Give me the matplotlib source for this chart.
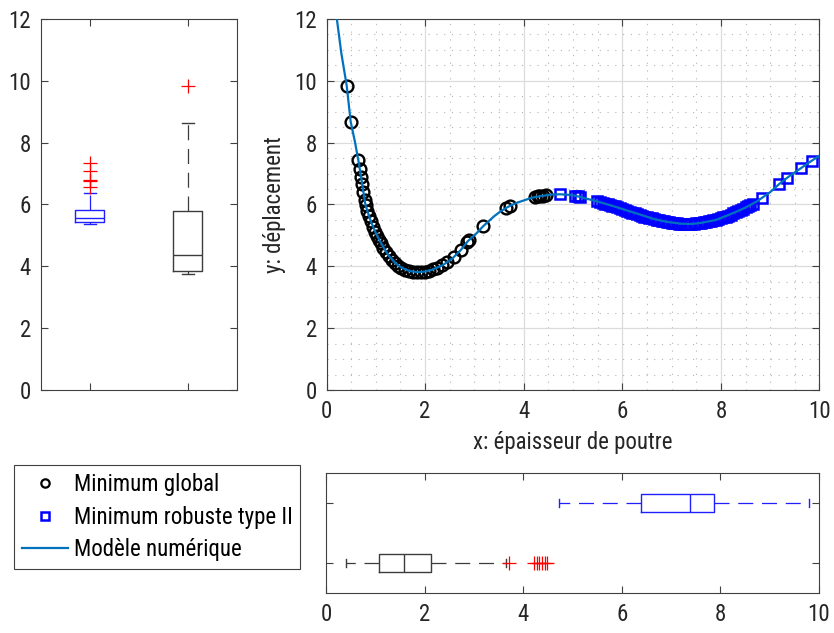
import numpy as np
import matplotlib
matplotlib.use("Agg")
from matplotlib import pyplot as plt
from matplotlib import font_manager
from matplotlib.lines import Line2D

# pick a narrow sans font if one is around
avail = {f.name for f in font_manager.fontManager.ttflist}
fam = next((n for n in ['Roboto Condensed', 'Liberation Sans Narrow', 'Open Sans Condensed',
                        'Noto Sans Condensed'] if n in avail), 'Liberation Sans')
plt.rcParams['font.family'] = [fam, 'DejaVu Sans']
plt.rcParams['font.size'] = 16.5

# ---- data ----
# numerical model curve
model_x = [0.21, 0.30, 0.41, 0.49, 0.58, 0.66, 0.79, 0.90, 1.00, 1.09, 1.18, 1.26, 1.40, 1.53, 1.68,
           1.84, 2.00, 2.14, 2.35, 2.55, 2.72, 2.87, 3.05, 3.18, 3.40, 3.55, 3.69, 3.85, 4.00, 4.17,
           4.34, 4.55, 4.74, 4.94, 5.08, 5.49, 5.75, 6.03, 6.37, 6.64, 6.90, 7.18, 7.40, 7.58, 7.90,
           8.26, 8.50, 8.74, 9.00, 9.21, 9.40, 9.61, 9.80, 10.0]
model_y = [12.0, 10.9, 9.84, 8.68, 8.00, 7.30, 5.98, 5.45, 5.08, 4.80, 4.55, 4.35, 4.10, 3.95, 3.85,
           3.81, 3.83, 3.89, 4.03, 4.25, 4.52, 4.82, 5.08, 5.30, 5.62, 5.80, 5.93, 6.05, 6.13, 6.22,
           6.27, 6.32, 6.33, 6.31, 6.27, 6.10, 5.98, 5.84, 5.67, 5.53, 5.44, 5.38, 5.37, 5.40, 5.50,
           5.73, 5.90, 6.11, 6.40, 6.70, 6.93, 7.16, 7.37, 7.58]

# Minimum global (circles)
glob_x = [0.41, 0.49, 0.64, 0.67, 0.70, 0.72, 0.75, 0.78, 0.80, 0.83, 0.86, 0.90, 0.94, 0.98, 1.02,
          1.06, 1.10, 1.15, 1.20, 1.26, 1.32, 1.38, 1.45, 1.52, 1.60, 1.68, 1.76, 1.84, 1.92, 2.00,
          2.08, 2.16, 2.25, 2.35, 2.45, 2.58, 2.72, 2.85, 2.90, 3.18, 3.65, 3.72, 4.22, 4.28, 4.34,
          4.40, 4.46]
glob_y = [9.84, 8.68, 7.45, 7.14, 6.88, 6.65, 6.40, 6.15, 5.98, 5.78, 5.62, 5.45, 5.28, 5.12, 4.98,
          4.85, 4.74, 4.60, 4.47, 4.35, 4.22, 4.12, 4.02, 3.94, 3.88, 3.84, 3.81, 3.81, 3.82, 3.83,
          3.86, 3.90, 3.96, 4.04, 4.14, 4.30, 4.52, 4.79, 4.86, 5.30, 5.88, 5.96, 6.24, 6.26, 6.27,
          6.29, 6.30]

# Minimum robuste type II (squares)
rob_x = [4.74, 5.05, 5.10, 5.15, 5.49, 5.55, 5.60, 5.65, 5.70, 5.75, 5.80, 5.85, 5.90, 5.95, 6.00,
         6.05, 6.10, 6.15, 6.20, 6.25, 6.30, 6.35, 6.40, 6.45, 6.50, 6.55, 6.60, 6.65, 6.70, 6.75,
         6.80, 6.85, 6.90, 6.95, 7.00, 7.05, 7.10, 7.15, 7.20, 7.25, 7.30, 7.35, 7.40, 7.45, 7.50,
         7.55, 7.60, 7.65, 7.70, 7.75, 7.80, 7.85, 7.90, 7.95, 8.00, 8.05, 8.10, 8.15, 8.20, 8.25,
         8.30, 8.35, 8.40, 8.45, 8.50, 8.55, 8.60, 8.65, 8.83, 9.17, 9.34, 9.62, 9.84]
rob_y = [6.33, 6.28, 6.27, 6.25, 6.10, 6.08, 6.06, 6.03, 6.01, 5.98, 5.96, 5.94, 5.91, 5.88, 5.85,
         5.82, 5.79, 5.77, 5.74, 5.71, 5.69, 5.66, 5.64, 5.61, 5.59, 5.57, 5.55, 5.53, 5.51, 5.49,
         5.47, 5.45, 5.44, 5.42, 5.41, 5.40, 5.39, 5.38, 5.38, 5.37, 5.37, 5.37, 5.37, 5.38, 5.39,
         5.40, 5.41, 5.42, 5.44, 5.45, 5.47, 5.49, 5.51, 5.53, 5.56, 5.58, 5.61, 5.64, 5.67, 5.71,
         5.75, 5.79, 5.83, 5.87, 5.91, 5.95, 5.99, 6.03, 6.22, 6.65, 6.86, 7.17, 7.40]

# boxplot stats: y (deplacement) and x (epaisseur)
rob_ybox = dict(whislo=5.37, q1=5.42, med=5.57, q3=5.81, whishi=6.37, fliers=[6.56, 6.76, 6.79, 7.07, 7.34])
glob_ybox = dict(whislo=3.75, q1=3.85, med=4.37, q3=5.79, whishi=8.65, fliers=[9.82])
glob_xbox = dict(whislo=0.41, q1=1.08, med=1.59, q3=2.12, whishi=3.66, fliers=[3.72, 4.22, 4.27, 4.33, 4.39, 4.44, 4.49])
rob_xbox = dict(whislo=4.73, q1=6.39, med=7.38, q3=7.88, whishi=9.80, fliers=[])

labels = ['Minimum global', 'Minimum robuste type II', 'Modèle numérique']

BLUE = '#1f1fff'
GREY = '#3c3c3c'
LINE = '#0072BD'
AXC = '#404040'


def style(ax):
    ax.tick_params(direction='in', top=True, right=True, length=5, width=0.8,
                   colors=AXC, labelcolor='#262626', pad=7)
    for s in ax.spines.values():
        s.set_color(AXC)
        s.set_linewidth(0.8)


def box(ax, st, pos, col, orient):
    ax.bxp([st], positions=[pos], widths=0.3, capwidths=0.12, orientation=orient,
           boxprops=dict(color=col, lw=1.0),
           medianprops=dict(color=col, lw=1.0),
           whiskerprops=dict(color=col, lw=0.9, ls=(0, (12, 7))),
           capprops=dict(color=col, lw=1.0),
           flierprops=dict(marker='+', markeredgecolor='red', markersize=10, mew=0.9, ls='none'))


fig = plt.figure(figsize=(8.34, 6.33), dpi=100)

# left: boxplots of y
ax1 = fig.add_axes([0.0488, 0.3839, 0.2350, 0.5861])
box(ax1, rob_ybox, 1, BLUE, 'vertical')
box(ax1, glob_ybox, 2, GREY, 'vertical')
ax1.set_xlim(0.5, 2.5)
ax1.set_ylim(0, 12)
ax1.set_xticks([1, 2])
ax1.set_xticklabels([])
ax1.set_yticks(range(0, 13, 2))
style(ax1)

# main plot
ax = fig.add_axes([0.3915, 0.3839, 0.5911, 0.5861])
ax.plot(glob_x, glob_y, 'o', mfc='none', mec='k', ms=8.5, mew=1.7, zorder=3)
ax.plot(rob_x, rob_y, 's', mfc='none', mec='#0000ff', ms=7.5, mew=1.8, zorder=3)
ax.plot(model_x, model_y, '-', color=LINE, lw=1.6, zorder=4)
ax.set_xlim(0, 10)
ax.set_ylim(0, 12)
ax.set_xticks(range(0, 11, 2))
ax.set_yticks(range(0, 13, 2))
ax.set_xticks(np.arange(0, 10.01, 0.5), minor=True)
ax.set_yticks(np.arange(0, 12.01, 0.5), minor=True)
ax.grid(True, which='major', color='#dcdcdc', lw=0.9)
ax.grid(True, which='minor', color='#b5b5b5', lw=0.8, ls=(0, (1, 6)))
ax.tick_params(which='minor', length=0)
ax.set_axisbelow(True)
ax.set_xlabel('x: épaisseur de poutre', color='#262626', labelpad=6)
ax.set_ylabel('y: déplacement', color='#262626', labelpad=6)
style(ax)

# bottom: boxplots of x
ax2 = fig.add_axes([0.3909, 0.0632, 0.5911, 0.1896])
box(ax2, glob_xbox, 1, GREY, 'horizontal')
box(ax2, rob_xbox, 2, BLUE, 'horizontal')
ax2.set_ylim(0.5, 2.5)
ax2.set_xlim(0, 10)
ax2.set_xticks(range(0, 11, 2))
ax2.set_yticks([1, 2])
ax2.set_yticklabels([])
style(ax2)

# legend
handles = [Line2D([], [], marker='o', ls='none', mfc='none', mec='k', ms=6, mew=1.6),
           Line2D([], [], marker='s', ls='none', mfc='none', mec='#0000ff', ms=5.5, mew=1.8),
           Line2D([], [], color=LINE, lw=1.6)]
leg = fig.legend(handles, labels, loc='upper left', bbox_to_anchor=(14 / 834, 1 - 465 / 633),
                 borderaxespad=0, fancybox=False, framealpha=1, edgecolor=AXC,
                 handlelength=2.0, handletextpad=0.25, labelspacing=0.42, borderpad=0.35)
leg.get_frame().set_linewidth(0.8)

fig.savefig('out.png', dpi=100)
